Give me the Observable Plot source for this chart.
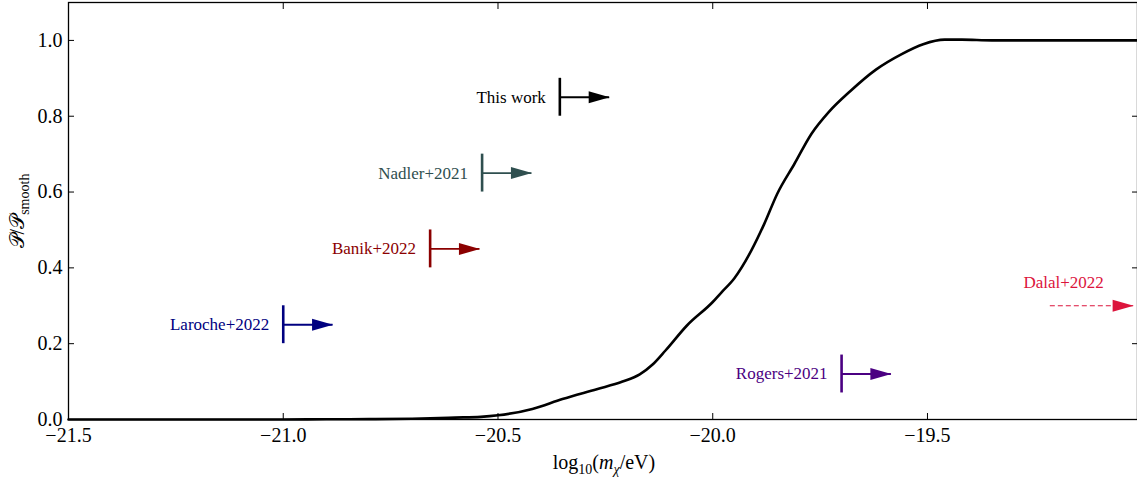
<!DOCTYPE html>
<html><head><meta charset="utf-8">
<script src="https://cdn.jsdelivr.net/npm/d3@7"></script>
<script src="https://cdn.jsdelivr.net/npm/@observablehq/plot@0.6"></script>
<style>body{margin:0;background:#fff} svg{display:block} svg text{font-family:"Liberation Serif", serif !important}</style>
</head><body><div id="chart"></div>
<script>
// Curve: P/P_smooth vs log10(m/eV)
const curveX = [-21.5, -21.2, -21.0, -20.9, -20.8, -20.7, -20.6, -20.54, -20.50, -20.42, -20.35, -20.27, -20.21, -20.17, -20.14, -20.11, -20.06, -20.00, -19.98, -19.95, -19.91, -19.88, -19.85, -19.81, -19.77, -19.73, -19.68, -19.62, -19.56, -19.51, -19.46, -19.42, -19.35, -19.2, -19.011];
const curveY = [0, 0, 0, 0.0005, 0.001, 0.002, 0.005, 0.007, 0.011, 0.028, 0.054, 0.080, 0.100, 0.119, 0.145, 0.182, 0.248, 0.310, 0.335, 0.372, 0.446, 0.516, 0.595, 0.674, 0.754, 0.811, 0.866, 0.923, 0.964, 0.990, 1.002, 1.002, 1.000, 1.0, 1.0];

// Lower limits
const limitNames = ["This work", "Nadler+2021", "Banik+2022", "Laroche+2022", "Rogers+2021"];
const limitX = [-20.356, -20.537, -20.658, -21.0, -19.70];
const limitY = [0.85, 0.65, 0.45, 0.25, 0.12];
const limitColors = ["black", "darkslategray", "darkred", "navy", "indigo"];

// Dalal+2022 (dashed)
const dalalName = "Dalal+2022";
const dalalX = [-19.214, -19.02];
const dalalY = 0.30;
const dalalLabel = [-19.183, 0.36];

const xTicks = [-21.5, -21.0, -20.5, -20.0, -19.5];
const yTicks = [0, 0.2, 0.4, 0.6, 0.8, 1.0];

const curve = curveX.map((x, i) => ({x, y: curveY[i]}));
const limits = limitNames.map((name, i) => ({name, x: limitX[i], y: limitY[i], color: limitColors[i]}));
const dalal = [{name: dalalName, x1: dalalX[0], x2: dalalX[1], y: dalalY, lx: dalalLabel[0], ly: dalalLabel[1]}];
const barHalf = 0.05, arrowLen = 0.116;

const head = {draw(ctx) { ctx.moveTo(0, 0); ctx.lineTo(-21, -6); ctx.lineTo(-21, 6); ctx.closePath(); }};
const fmt = d3.format(".1f");
const ff = "Liberation Serif";

const svg = Plot.plot({
  width: 1137, height: 479,
  marginLeft: 68, marginRight: 0, marginTop: 2, marginBottom: 60,
  style: {fontFamily: ff, fontSize: "20px", background: "white", color: "black"},
  x: {domain: [-21.5, -19.011]},
  y: {domain: [0, 1.1]},
  color: {type: "identity"},
  marks: [
    Plot.axisX(xTicks, {anchor: "bottom", tickSize: 0, tickPadding: 8, tickFormat: fmt, label: null, fontSize: 20, fontFamily: ff}),
    Plot.axisX(xTicks, {anchor: "bottom", tickSize: 6, dy: -6, fill: "none", label: null}),
    Plot.axisX(xTicks, {anchor: "top", tickSize: 6, dy: 6, fill: "none", label: null}),
    Plot.axisY(yTicks, {anchor: "left", tickSize: 0, tickPadding: 6, tickFormat: fmt, label: null, fontSize: 20, fontFamily: ff}),
    Plot.axisY(yTicks, {anchor: "left", tickSize: 6, dx: 6, fill: "none", label: null}),
    Plot.axisY(yTicks, {anchor: "right", tickSize: 6, dx: -6, fill: "none", label: null}),
    Plot.line(curve, {x: "x", y: "y", stroke: "black", strokeWidth: 2.6, curve: "monotone-x"}),
    Plot.ruleX(limits, {x: "x", y1: d => d.y - barHalf, y2: d => d.y + barHalf, stroke: "color", strokeWidth: 2.6}),
    Plot.ruleY(limits, {y: "y", x1: "x", x2: d => d.x + arrowLen, stroke: "color", strokeWidth: 1.8}),
    Plot.dot(limits, {x: d => d.x + arrowLen, y: "y", symbol: head, fill: "color", stroke: null}),
    Plot.text(limits, {x: "x", y: "y", text: "name", textAnchor: "end", dx: -14, fill: "color", fontSize: 17, fontFamily: ff}),
    Plot.ruleY(dalal, {y: "y", x1: "x1", x2: "x2", stroke: "crimson", strokeWidth: 1.2, strokeDasharray: "5,3"}),
    Plot.dot(dalal, {x: "x2", y: "y", symbol: head, fill: "crimson", stroke: null}),
    Plot.text(dalal, {x: "lx", y: "ly", text: "name", fill: "crimson", fontSize: 17, fontFamily: ff}),
    Plot.frame({stroke: "black", strokeWidth: 1.3})
  ]
});

const s = d3.select(svg);
const xl = s.append("text").attr("x", 604).attr("y", 469).attr("text-anchor", "middle")
  .attr("font-family", ff).attr("font-size", 20).attr("fill", "black");
xl.append("tspan").text("log");
xl.append("tspan").attr("dy", 5).attr("font-size", 14).text("10");
xl.append("tspan").attr("dy", -5).text("(");
xl.append("tspan").attr("font-style", "italic").text("m");
xl.append("tspan").attr("dy", 5).attr("font-size", 14).attr("font-style", "italic").text("χ");
xl.append("tspan").attr("dy", -5).text("/eV)");

const yl = s.append("text").attr("transform", "translate(24,211) rotate(-90)").attr("text-anchor", "middle")
  .attr("font-family", ff).attr("font-size", 20).attr("fill", "black");
yl.append("tspan").text("𝒫/𝒫");
yl.append("tspan").attr("dy", 5).attr("font-size", 14).text("smooth");

document.getElementById("chart").appendChild(svg);
</script>
</body></html>
